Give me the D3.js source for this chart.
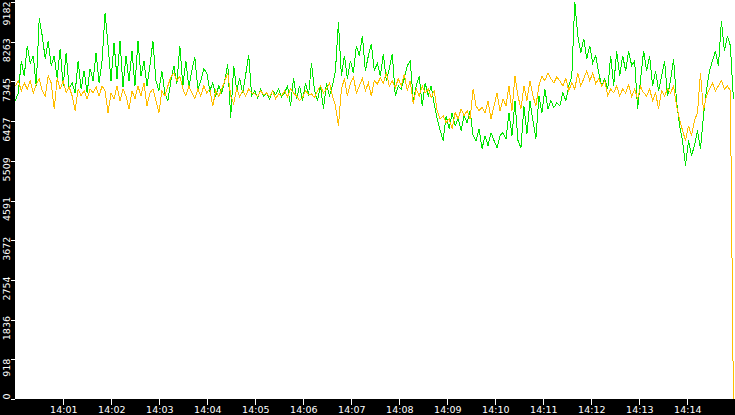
<!DOCTYPE html>
<html>
<head>
<meta charset="utf-8">
<script src="https://cdn.jsdelivr.net/npm/d3@7"></script>
<style>
    html, body { margin: 0; padding: 0; background: #000; overflow: hidden; }
    .grid text { fill: #fff; font-family: "DejaVu Sans", sans-serif; font-size: 9.5px; }
    .grid line { stroke: #fff; shape-rendering: crispEdges; }
</style>
</head>
<body>
<div id="wrapper"></div>
<script>
// samples, one every 3.74 s starting 14:00:00
const startTime = '14:00:00';
const stepMs = 3740;

const greenVals = [
    6900, 7080, 7820, 7470, 8170, 7770, 7940, 7240, 8810, 8400,
    7870, 8280, 7710, 7940, 7410, 8100, 7240, 8010, 7170, 7310,
    7080, 7820, 7170, 7590, 7080, 7640, 7360, 8010, 7310, 7820,
    8930, 8170, 7360, 8240, 7410, 8280, 7220, 7940, 7360, 8050,
    7240, 8280, 7470, 7820, 7240, 7710, 8280, 7360, 7130, 7590,
    7060, 6900, 7360, 7710, 7290, 8170, 7240, 7820, 7200, 7590,
    7910, 7170, 7360, 7640, 7540, 7130, 7310, 7010, 7240, 7080,
    7360, 7750, 6510, 7710, 7130, 7410, 7080, 7500, 7960, 7010,
    7130, 6970, 7170, 7010, 7080, 6940, 7130, 7040, 7170, 6990,
    7080, 7240, 6780, 7430, 6940, 7240, 6900, 7310, 7010, 7770,
    7130, 6900, 7240, 6710, 7310, 7010, 7240, 7590, 8720, 7470,
    7940, 7410, 7820, 7540, 8170, 7940, 8400, 7590, 7940, 8210,
    7590, 7770, 7470, 7980, 7360, 7640, 7980, 7010, 7240, 7170,
    7410, 7710, 7820, 6900, 7240, 7470, 6780, 7310, 7010, 7240,
    6830, 6480, 6210, 5980, 6550, 6250, 6620, 6320, 6480, 6210,
    6550, 6390, 6670, 6090, 5980, 6250, 5790, 6090, 5860, 6160,
    5980, 5810, 6090, 6160, 6020, 6620, 6090, 6900, 5980, 5810,
    6780, 6140, 6900, 6440, 6020, 7010, 6620, 7170, 6710, 6900,
    6740, 6850, 6780, 7080, 6900, 7240, 7470, 9182, 8400, 8010,
    8330, 7870, 8170, 7770, 7940, 7540, 7240, 7410, 7170, 7940,
    7240, 8050, 7470, 7940, 7590, 8050, 7710, 7820, 6710, 7410,
    8050, 7590, 7940, 7240, 7590, 7130, 7470, 7820, 7010, 7360,
    7870, 6900, 6320, 5980, 5400, 5980, 5630, 5860, 6210, 5790,
    6550, 7130, 7590, 7820, 8050, 7710, 8740, 8050, 8400, 8170,
    6940
];

const orangeVals = [
    7240, 7360, 7130, 7310, 7170, 7360, 7080, 7270, 7410, 7130,
    7010, 7470, 7310, 6710, 7410, 7170, 7360, 7080, 7220, 7010,
    6670, 7170, 7010, 7130, 6940, 7170, 7080, 7220, 7010, 7240,
    7130, 6620, 7080, 6940, 7240, 6900, 7170, 7010, 6710, 7130,
    6940, 7240, 7010, 7310, 6780, 7080, 7170, 6900, 6620, 7130,
    7010, 7240, 7450, 7540, 7360, 7470, 7170, 7010, 7240, 7080,
    6940, 7170, 7010, 7240, 7080, 7170, 6780, 7130, 6990, 7170,
    7360, 7540, 7010, 6830, 7170, 6990, 7130, 7010, 7170, 7080,
    7060, 6990, 7130, 7040, 7080, 6990, 7130, 6940, 7060, 7010,
    7130, 6990, 7170, 7080, 7010, 6900, 6970, 7130, 7040, 7060,
    6970, 7130, 7240, 7080, 7170, 7310, 7010, 6780, 6320, 7170,
    7410, 7010, 7310, 7450, 7080, 7240, 7410, 7130, 7310, 7010,
    7360, 7290, 7430, 7310, 7540, 7240, 7360, 7200, 7410, 7240,
    7520, 7130, 7360, 6830, 7170, 7010, 7240, 7080, 7170, 6970,
    7130, 6670, 6480, 6550, 6390, 6480, 6250, 6620, 6480, 6710,
    6550, 6670, 6480, 7170, 6780, 6670, 6740, 6620, 6900, 6480,
    6780, 7080, 6670, 6940, 6780, 7240, 6670, 7470, 7010, 6710,
    7240, 6900, 7360, 7010, 6780, 7240, 7470, 7360, 7540, 7410,
    7310, 7450, 7360, 7240, 7410, 7130, 7310, 7170, 7540, 7240,
    7410, 7590, 7360, 7540, 7290, 7410, 7240, 7360, 7010, 7170,
    7080, 7240, 7010, 7170, 7080, 7270, 6990, 7170, 6940, 7220,
    7080, 7010, 7170, 6900, 7080, 6710, 7130, 7010, 7170, 7080,
    7240, 6780, 6480, 6210, 5980, 6320, 6090, 6440, 6620, 7540,
    6670, 7010, 7170, 7310, 7130, 7240, 7360, 7170, 7240, 7130,
    0
];

const yTicks = [0, 918, 1836, 2754, 3672, 4591, 5509, 6427, 7345, 8263, 9182];
const xTicks = ['14:01', '14:02', '14:03', '14:04', '14:05', '14:06', '14:07',
    '14:08', '14:09', '14:10', '14:11', '14:12', '14:13', '14:14'];

const timeParser = d3.timeParse('%H:%M:%S');
const tickParser = d3.timeParse('%H:%M');

function drawChart() {

    //1 - access data
    let t0 = timeParser(startTime);
    let green = greenVals.map((v, i) => ({ time: new Date(+t0 + i * stepMs), value: v }));
    let orange = orangeVals.map((v, i) => ({ time: new Date(+t0 + i * stepMs), value: v }));

    //2 - set dimension and properties
    let dimensions = {
        width: 735,
        height: 415,
        margin: {
            top: 2,
            right: 0,
            bottom: 16,
            left: 15
        }
    };
    dimensions.boundW = dimensions.width - dimensions.margin.left - dimensions.margin.right;
    dimensions.boundH = dimensions.height - dimensions.margin.top - dimensions.margin.bottom;

    //3 - draw canvas
    let svg = d3.select('#wrapper').append('svg')
        .attr('width', dimensions.width)
        .attr('height', dimensions.height)
        .style('display', 'block')
        .style('background', '#000');

    svg.append('rect')
        .attr('x', dimensions.margin.left)
        .attr('y', 0)
        .attr('width', dimensions.boundW)
        .attr('height', dimensions.boundH + dimensions.margin.top)
        .attr('fill', '#fff');

    let bounds = svg.append('g')
        .attr('transform', `translate(${dimensions.margin.left},${dimensions.margin.top})`);

    //create scales
    let yScale = d3.scaleLinear()
        .domain([0, 9182])
        .range([dimensions.boundH, 0]);

    let endTime = d3.timeMinute.offset(t0, 15);
    let xScale = d3.scaleTime()
        .domain([t0, endTime])
        .range([0.3, dimensions.boundW + 0.3]);

    // draw data (lines)
    let lineGenerator = d3.line()
        .x(d => xScale(d.time))
        .y(d => yScale(d.value));

    bounds.append('path')
        .attr('d', lineGenerator(green))
        .attr('fill', 'none')
        .attr('stroke', '#00e600')
        .attr('stroke-width', 1)
        .style('shape-rendering', 'crispEdges');

    bounds.append('path')
        .attr('d', lineGenerator(orange))
        .attr('fill', 'none')
        .attr('stroke', '#ffbe00')
        .attr('stroke-width', 1)
        .style('shape-rendering', 'crispEdges');

    //draw peripherals
    let xAxisGenerator = d3.axisBottom()
        .scale(xScale)
        .tickValues(xTicks.map(s => {
            let p = tickParser(s);
            return new Date(+t0 + (p.getHours() - t0.getHours()) * 3600000 + (p.getMinutes() - t0.getMinutes()) * 60000);
        }))
        .tickFormat(d3.timeFormat('%H:%M'))
        .tickSize(6)
        .tickPadding(1.5);

    let xAxis = bounds.append('g')
        .attr('class', 'grid')
        .attr('transform', `translate(0,${dimensions.boundH})`)
        .call(xAxisGenerator);
    xAxis.select('.domain').remove();

    let yAxisGenerator = d3.axisLeft()
        .scale(yScale)
        .tickValues(yTicks)
        .tickFormat(d3.format('d'))
        .tickSize(4);

    let yAxis = bounds.append('g')
        .attr('class', 'grid')
        .call(yAxisGenerator);
    yAxis.select('.domain').remove();

    // labels read upwards, sit a bit below their tick, kept inside the strip
    yAxis.selectAll('text')
        .attr('transform', 'rotate(-90)')
        .attr('text-anchor', 'middle')
        .attr('dy', 0)
        .attr('y', -5)
        .attr('x', d => {
            let off = Math.min(8, yScale(0) - yScale(d) - 3);
            off = Math.max(off, 11 - yScale(d));
            return -off;
        });
}

drawChart();
</script>
</body>
</html>
